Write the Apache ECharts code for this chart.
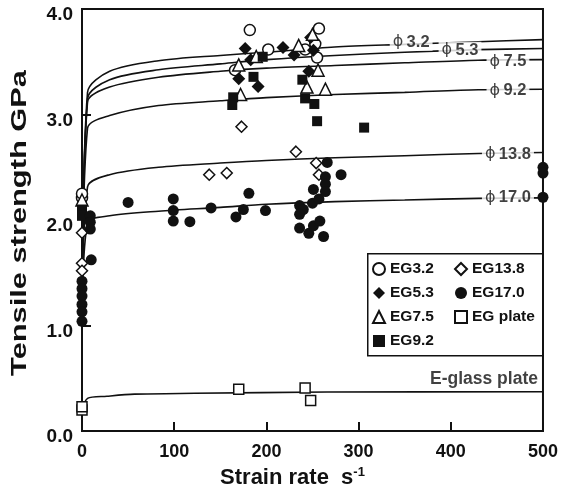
<!DOCTYPE html>
<html><head><meta charset="utf-8">
<script src="https://cdn.jsdelivr.net/npm/echarts@6/dist/echarts.min.js"></script>
<style>html,body{margin:0;padding:0;background:#fff}#c{width:561px;height:494px}</style>
</head><body><div id="c"></div>
<script>
// ---- axes ----
const xMin = 0, xMax = 500, xStep = 100;
const yMin = 0, yMax = 4, yStep = 1;
const yTitle = 'Tensile strength GPa';

// ---- model curves (strain rate, GPa) ----
const curveX  = [0, 6, 30, 83, 150, 200, 274, 350, 430, 500];
const curve32 = [1.0, 3.21, 3.41, 3.51, 3.56, 3.59, 3.64, 3.665, 3.69, 3.71];
const curve53 = [1.0, 3.15, 3.33, 3.424, 3.48, 3.52, 3.56, 3.59, 3.615, 3.625];
const curve75 = [1.0, 3.12, 3.26, 3.353, 3.41, 3.44, 3.465, 3.49, 3.515, 3.52];
const curve92 = [1.0, 2.87, 2.99, 3.085, 3.13, 3.16, 3.19, 3.21, 3.235, 3.24];
const curve138 = [1.0, 2.315, 2.43, 2.50, 2.54, 2.565, 2.59, 2.61, 2.63, 2.64];
const curve170 = [1.0, 1.973, 2.04, 2.084, 2.12, 2.15, 2.175, 2.19, 2.205, 2.21];
const plateCurveX = [0, 6, 27, 57, 122, 266, 500];
const plateCurveY = [0.134, 0.31, 0.33, 0.35, 0.358, 0.37, 0.373];

// curve labels
const curveLabels = ['3.2', '5.3', '7.5', '9.2', '13.8', '17.0'];
const curveLabelX = [357, 410, 462, 462, 462, 462];
const curveLabelY = [3.685, 3.61, 3.50, 3.224, 2.623, 2.213];
const plateLabel = 'E-glass plate';
const plateLabelX = [436];
const plateLabelY = [0.495];

// ---- measured points ----
const eg32X = [182, 202, 242, 257, 255, 253, 166, 0, 0];
const eg32Y = [3.80, 3.616, 3.616, 3.815, 3.54, 3.67, 3.42, 2.21, 2.25];

const eg53X = [177, 183, 218, 230, 170, 191, 246, 248, 251];
const eg53Y = [3.625, 3.52, 3.634, 3.563, 3.34, 3.265, 3.41, 3.73, 3.61];

const eg75X = [170, 172, 189, 235, 250, 244, 256, 264, 0];
const eg75Y = [3.47, 3.19, 3.55, 3.655, 3.76, 3.26, 3.42, 3.24, 2.19];

const eg92X = [196, 186, 164, 163, 239, 242, 252, 255, 306, 0, 0];
const eg92Y = [3.547, 3.357, 3.163, 3.09, 3.33, 3.153, 3.10, 2.937, 2.876, 2.10, 2.04];

const eg138X = [138, 157, 232, 254, 257, 173, 0, 0, 0];
const eg138Y = [2.43, 2.445, 2.648, 2.54, 2.43, 2.885, 1.88, 1.59, 1.52];

const eg170X = [50, 99, 99, 99, 117, 140, 181, 175, 167, 199, 236, 240, 236, 250, 257, 251, 264, 264, 264, 281,
                236, 246, 251, 258, 262, 266, 9, 9, 9, 10, 0, 0, 0, 0, 0, 0, 500, 500, 500];
const eg170Y = [2.167, 2.20, 2.09, 1.99, 1.985, 2.115, 2.253, 2.10, 2.03, 2.09, 2.137, 2.10, 2.054, 2.16, 2.20, 2.29, 2.41, 2.34, 2.27, 2.43,
                1.924, 1.874, 1.945, 1.99, 1.844, 2.546, 2.04, 1.98, 1.915, 1.623, 1.42, 1.35, 1.28, 1.20, 1.13, 1.04, 2.50, 2.445, 2.216];

const plateX = [170, 242, 248, 0, 0];
const plateY = [0.397, 0.408, 0.29, 0.20, 0.23];

const legendCol1 = ['EG3.2', 'EG5.3', 'EG7.5', 'EG9.2'];
const legendCol2 = ['EG13.8', 'EG17.0', 'EG plate'];

const zip = (a, b) => a.map((v, i) => [v, b[i]]);
const FONT = '"Liberation Sans", Arial, sans-serif';

function curve(name, xs, ys) {
  return { name, type: 'line', data: zip(xs, ys), symbol: 'none', smooth: 0.3,
    lineStyle: { color: '#111', width: 1.6 }, silent: true, z: 2 };
}
function pts(name, xs, ys, symbol, size, filled) {
  return { name, type: 'scatter', data: zip(xs, ys), symbol, symbolSize: size, z: 4,
    itemStyle: { color: filled ? '#111' : '#fff', borderColor: '#111', borderWidth: filled ? 0 : 1.5, opacity: 1 } };
}

const chart = echarts.init(document.getElementById('c'));
chart.setOption({
  animation: false,
  backgroundColor: '#fff',
  grid: { left: 82, right: 8, top: 9, bottom: 54, show: true, borderColor: '#111', borderWidth: 2 },
  xAxis: {
    type: 'value', min: xMin, max: xMax, interval: xStep,
    axisLine: { lineStyle: { color: '#111', width: 2 } },
    axisTick: { inside: true, length: 9, lineStyle: { color: '#111', width: 2 } },
    axisLabel: { color: '#111', fontWeight: 'bold', fontSize: 18, fontFamily: FONT, margin: 12 },
    splitLine: { show: false },
    name: 'Strain rate  s{sup|-1}', nameLocation: 'middle', nameGap: 32,
    nameTextStyle: { color: '#111', fontWeight: 'bold', fontSize: 22, fontFamily: FONT, padding: [0, 40, 0, 0],
      rich: { sup: { fontSize: 13, fontWeight: 'bold', fontFamily: FONT, color: '#111', padding: [0, 0, 11, 0] } } }
  },
  yAxis: {
    type: 'value', min: yMin, max: yMax, interval: yStep,
    axisLine: { show: true, lineStyle: { color: '#111', width: 2 } },
    axisTick: { show: true, inside: true, length: 9, lineStyle: { color: '#111', width: 2 } },
    axisLabel: { color: '#111', fontWeight: 'bold', fontSize: 19, fontFamily: FONT, margin: 9,
      verticalAlign: 'top', lineHeight: 12, formatter: v => v.toFixed(1) },
    splitLine: { show: false }
  },
  legend: [
    { data: legendCol1, orient: 'vertical', left: 372, top: 261, itemGap: 8, itemWidth: 12, itemHeight: 12, padding: 0,
      textStyle: { color: '#111', fontWeight: 'bold', fontSize: 15.5, fontFamily: FONT, lineHeight: 16 }, selectedMode: false },
    { data: legendCol2, orient: 'vertical', left: 454, top: 261, itemGap: 8, itemWidth: 12, itemHeight: 12, padding: 0,
      textStyle: { color: '#111', fontWeight: 'bold', fontSize: 15.5, fontFamily: FONT, lineHeight: 16 }, selectedMode: false }
  ],
  graphic: [
    { type: 'rect', left: 367, top: 253, z: 3, shape: { width: 175, height: 102 },
      style: { fill: '#fff', stroke: '#111', lineWidth: 1.5 } },
    { type: 'text', x: 20, y: 223, rotation: Math.PI / 2, scaleX: 1.4, z: 5,
      style: { text: yTitle, font: 'bold 22px "Liberation Sans", Arial, sans-serif', fill: '#111',
        textAlign: 'center', textVerticalAlign: 'middle' } }
  ],
  series: [
    curve('c3.2', curveX, curve32),
    curve('c5.3', curveX, curve53),
    curve('c7.5', curveX, curve75),
    curve('c9.2', curveX, curve92),
    curve('c13.8', curveX, curve138),
    curve('c17.0', curveX, curve170),
    curve('cplate', plateCurveX, plateCurveY),
    pts('EG3.2', eg32X, eg32Y, 'circle', 11, false),
    pts('EG5.3', eg53X, eg53Y, 'diamond', 13, true),
    pts('EG7.5', eg75X, eg75Y, 'triangle', 12, false),
    pts('EG9.2', eg92X, eg92Y, 'rect', 10, true),
    pts('EG13.8', eg138X, eg138Y, 'diamond', 11, false),
    pts('EG17.0', eg170X, eg170Y, 'circle', 11, true),
    pts('EG plate', plateX, plateY, 'rect', 10, false),
    { name: 'curveLabels', type: 'scatter', data: zip(curveLabelX, curveLabelY), symbolSize: 0, silent: true, z: 6,
      label: { show: true, position: 'inside', backgroundColor: '#fff', padding: [0, 3],
        formatter: p => '{p|\u03d5} {n|' + curveLabels[p.dataIndex] + '}',
        rich: { p: { fontSize: 16, fontFamily: '"DejaVu Sans", sans-serif', color: '#111' },
                n: { fontSize: 16.5, fontWeight: 'bold', fontFamily: FONT, color: '#111' } } } },
    { name: 'plateLabel', type: 'scatter', data: zip(plateLabelX, plateLabelY), symbolSize: 0, silent: true, z: 6,
      label: { show: true, position: 'inside', formatter: plateLabel,
        fontSize: 17.5, fontWeight: 'bold', fontFamily: FONT, color: '#111' } }
  ]
});
</script>
</body></html>
